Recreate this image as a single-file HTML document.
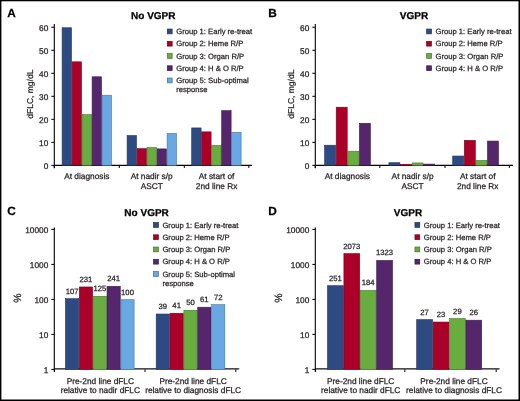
<!DOCTYPE html>
<html><head><meta charset="utf-8"><style>
html,body{margin:0;padding:0;background:#fff;}
body{width:520px;height:401px;overflow:hidden;position:relative;}
svg{position:absolute;left:0;top:0;font-family:"Liberation Sans", sans-serif;will-change:transform;}
text{stroke-width:0.25px;text-rendering:geometricPrecision;}
</style></head><body>
<svg width="520" height="401" viewBox="0 0 520 401">
<rect x="0" y="0" width="520" height="401" fill="#fff"/>
<text x="7.30" y="17.20" font-size="11.8" text-anchor="start" font-weight="bold" fill="#000" stroke="#000" >A</text>
<text x="153.30" y="18.50" font-size="10" text-anchor="middle" font-weight="bold" fill="#000" stroke="#000" >No VGPR</text>
<line x1="54.30" y1="24.00" x2="54.30" y2="168.20" stroke="#000" stroke-width="1.1"/>
<line x1="51.30" y1="165.40" x2="54.30" y2="165.40" stroke="#000" stroke-width="1"/>
<text x="48.30" y="168.80" font-size="8.3" text-anchor="end" font-weight="normal" fill="#231f20" stroke="#231f20" >0</text>
<line x1="51.30" y1="142.37" x2="54.30" y2="142.37" stroke="#000" stroke-width="1"/>
<text x="48.30" y="145.77" font-size="8.3" text-anchor="end" font-weight="normal" fill="#231f20" stroke="#231f20" >10</text>
<line x1="51.30" y1="119.34" x2="54.30" y2="119.34" stroke="#000" stroke-width="1"/>
<text x="48.30" y="122.74" font-size="8.3" text-anchor="end" font-weight="normal" fill="#231f20" stroke="#231f20" >20</text>
<line x1="51.30" y1="96.31" x2="54.30" y2="96.31" stroke="#000" stroke-width="1"/>
<text x="48.30" y="99.71" font-size="8.3" text-anchor="end" font-weight="normal" fill="#231f20" stroke="#231f20" >30</text>
<line x1="51.30" y1="73.28" x2="54.30" y2="73.28" stroke="#000" stroke-width="1"/>
<text x="48.30" y="76.68" font-size="8.3" text-anchor="end" font-weight="normal" fill="#231f20" stroke="#231f20" >40</text>
<line x1="51.30" y1="50.25" x2="54.30" y2="50.25" stroke="#000" stroke-width="1"/>
<text x="48.30" y="53.65" font-size="8.3" text-anchor="end" font-weight="normal" fill="#231f20" stroke="#231f20" >50</text>
<line x1="51.30" y1="27.22" x2="54.30" y2="27.22" stroke="#000" stroke-width="1"/>
<text x="48.30" y="30.62" font-size="8.3" text-anchor="end" font-weight="normal" fill="#231f20" stroke="#231f20" >60</text>
<text transform="translate(33.3,94.2) rotate(-90)" font-size="8.5" text-anchor="middle" fill="#231f20" stroke="#231f20">dFLC, mg/dL</text>
<line x1="54.30" y1="165.40" x2="252.00" y2="165.40" stroke="#000" stroke-width="1.1"/>
<line x1="54.30" y1="165.40" x2="54.30" y2="168.00" stroke="#000" stroke-width="1"/>
<line x1="119.30" y1="165.40" x2="119.30" y2="168.00" stroke="#000" stroke-width="1"/>
<line x1="184.30" y1="165.40" x2="184.30" y2="168.00" stroke="#000" stroke-width="1"/>
<line x1="248.80" y1="165.40" x2="248.80" y2="168.00" stroke="#000" stroke-width="1"/>
<rect x="62.10" y="27.75" width="9.40" height="137.65" fill="#2d4b82" stroke="#1f345b" stroke-width="0.6"/>
<rect x="72.10" y="61.83" width="9.40" height="103.57" fill="#ab0129" stroke="#77001c" stroke-width="0.6"/>
<rect x="82.10" y="114.57" width="9.40" height="50.83" fill="#69ad41" stroke="#49792d" stroke-width="0.6"/>
<rect x="92.10" y="76.80" width="9.40" height="88.60" fill="#55266b" stroke="#3b1a4a" stroke-width="0.6"/>
<rect x="102.10" y="95.23" width="9.40" height="70.17" fill="#68a8e3" stroke="#48759e" stroke-width="0.6"/>
<text x="86.80" y="179.10" font-size="8.3" text-anchor="middle" font-weight="normal" fill="#231f20" stroke="#231f20" >At diagnosis</text>
<rect x="127.10" y="135.53" width="9.40" height="29.87" fill="#2d4b82" stroke="#1f345b" stroke-width="0.6"/>
<rect x="137.10" y="148.66" width="9.40" height="16.74" fill="#ab0129" stroke="#77001c" stroke-width="0.6"/>
<rect x="147.10" y="147.51" width="9.40" height="17.89" fill="#69ad41" stroke="#49792d" stroke-width="0.6"/>
<rect x="157.10" y="148.89" width="9.40" height="16.51" fill="#55266b" stroke="#3b1a4a" stroke-width="0.6"/>
<rect x="167.10" y="133.46" width="9.40" height="31.94" fill="#68a8e3" stroke="#48759e" stroke-width="0.6"/>
<text x="151.70" y="179.10" font-size="8.3" text-anchor="middle" font-weight="normal" fill="#231f20" stroke="#231f20" >At nadir s/p</text>
<text x="151.70" y="188.60" font-size="8.3" text-anchor="middle" font-weight="normal" fill="#231f20" stroke="#231f20" >ASCT</text>
<rect x="191.70" y="127.93" width="9.40" height="37.47" fill="#2d4b82" stroke="#1f345b" stroke-width="0.6"/>
<rect x="201.70" y="131.85" width="9.40" height="33.55" fill="#ab0129" stroke="#77001c" stroke-width="0.6"/>
<rect x="211.70" y="145.43" width="9.40" height="19.97" fill="#69ad41" stroke="#49792d" stroke-width="0.6"/>
<rect x="221.70" y="110.66" width="9.40" height="54.74" fill="#55266b" stroke="#3b1a4a" stroke-width="0.6"/>
<rect x="231.70" y="132.31" width="9.40" height="33.09" fill="#68a8e3" stroke="#48759e" stroke-width="0.6"/>
<text x="216.60" y="179.10" font-size="8.3" text-anchor="middle" font-weight="normal" fill="#231f20" stroke="#231f20" >At start of</text>
<text x="216.60" y="188.60" font-size="8.3" text-anchor="middle" font-weight="normal" fill="#231f20" stroke="#231f20" >2nd line Rx</text>
<rect x="167.35" y="29.05" width="4.80" height="4.80" fill="#2d4b82" stroke="#1d3054" stroke-width="0.7"/>
<text x="176.20" y="34.20" font-size="7.65" text-anchor="start" font-weight="normal" fill="#231f20" stroke="#231f20" >Group 1: Early re-treat</text>
<rect x="167.35" y="41.30" width="4.80" height="4.80" fill="#ab0129" stroke="#6f001a" stroke-width="0.7"/>
<text x="176.20" y="46.45" font-size="7.65" text-anchor="start" font-weight="normal" fill="#231f20" stroke="#231f20" >Group 2: Heme R/P</text>
<rect x="167.35" y="53.55" width="4.80" height="4.80" fill="#69ad41" stroke="#44702a" stroke-width="0.7"/>
<text x="176.20" y="58.70" font-size="7.65" text-anchor="start" font-weight="normal" fill="#231f20" stroke="#231f20" >Group 3: Organ R/P</text>
<rect x="167.35" y="65.80" width="4.80" height="4.80" fill="#55266b" stroke="#371845" stroke-width="0.7"/>
<text x="176.20" y="70.95" font-size="7.65" text-anchor="start" font-weight="normal" fill="#231f20" stroke="#231f20" >Group 4: H &amp; O R/P</text>
<rect x="167.35" y="78.05" width="4.80" height="4.80" fill="#68a8e3" stroke="#436d93" stroke-width="0.7"/>
<text x="176.20" y="83.20" font-size="7.65" text-anchor="start" font-weight="normal" fill="#231f20" stroke="#231f20" >Group 5: Sub-optimal</text>
<text x="176.20" y="92.20" font-size="7.65" text-anchor="start" font-weight="normal" fill="#231f20" stroke="#231f20" >response</text>
<text x="268.30" y="17.20" font-size="11.8" text-anchor="start" font-weight="bold" fill="#000" stroke="#000" >B</text>
<text x="414.00" y="18.50" font-size="10" text-anchor="middle" font-weight="bold" fill="#000" stroke="#000" >VGPR</text>
<line x1="315.30" y1="24.00" x2="315.30" y2="168.20" stroke="#000" stroke-width="1.1"/>
<line x1="312.30" y1="165.40" x2="315.30" y2="165.40" stroke="#000" stroke-width="1"/>
<text x="309.30" y="168.80" font-size="8.3" text-anchor="end" font-weight="normal" fill="#231f20" stroke="#231f20" >0</text>
<line x1="312.30" y1="142.37" x2="315.30" y2="142.37" stroke="#000" stroke-width="1"/>
<text x="309.30" y="145.77" font-size="8.3" text-anchor="end" font-weight="normal" fill="#231f20" stroke="#231f20" >10</text>
<line x1="312.30" y1="119.34" x2="315.30" y2="119.34" stroke="#000" stroke-width="1"/>
<text x="309.30" y="122.74" font-size="8.3" text-anchor="end" font-weight="normal" fill="#231f20" stroke="#231f20" >20</text>
<line x1="312.30" y1="96.31" x2="315.30" y2="96.31" stroke="#000" stroke-width="1"/>
<text x="309.30" y="99.71" font-size="8.3" text-anchor="end" font-weight="normal" fill="#231f20" stroke="#231f20" >30</text>
<line x1="312.30" y1="73.28" x2="315.30" y2="73.28" stroke="#000" stroke-width="1"/>
<text x="309.30" y="76.68" font-size="8.3" text-anchor="end" font-weight="normal" fill="#231f20" stroke="#231f20" >40</text>
<line x1="312.30" y1="50.25" x2="315.30" y2="50.25" stroke="#000" stroke-width="1"/>
<text x="309.30" y="53.65" font-size="8.3" text-anchor="end" font-weight="normal" fill="#231f20" stroke="#231f20" >50</text>
<line x1="312.30" y1="27.22" x2="315.30" y2="27.22" stroke="#000" stroke-width="1"/>
<text x="309.30" y="30.62" font-size="8.3" text-anchor="end" font-weight="normal" fill="#231f20" stroke="#231f20" >60</text>
<text transform="translate(293.7,94.2) rotate(-90)" font-size="8.5" text-anchor="middle" fill="#231f20" stroke="#231f20">dFLC, mg/dL</text>
<line x1="315.30" y1="165.40" x2="513.00" y2="165.40" stroke="#000" stroke-width="1.1"/>
<line x1="315.30" y1="165.40" x2="315.30" y2="168.00" stroke="#000" stroke-width="1"/>
<line x1="379.80" y1="165.40" x2="379.80" y2="168.00" stroke="#000" stroke-width="1"/>
<line x1="445.00" y1="165.40" x2="445.00" y2="168.00" stroke="#000" stroke-width="1"/>
<line x1="509.30" y1="165.40" x2="509.30" y2="168.00" stroke="#000" stroke-width="1"/>
<rect x="324.60" y="145.20" width="11.00" height="20.20" fill="#2d4b82" stroke="#1f345b" stroke-width="0.6"/>
<rect x="336.20" y="107.20" width="11.00" height="58.20" fill="#ab0129" stroke="#77001c" stroke-width="0.6"/>
<rect x="347.80" y="151.19" width="11.00" height="14.21" fill="#69ad41" stroke="#49792d" stroke-width="0.6"/>
<rect x="359.40" y="123.32" width="11.00" height="42.08" fill="#55266b" stroke="#3b1a4a" stroke-width="0.6"/>
<text x="347.30" y="179.10" font-size="8.3" text-anchor="middle" font-weight="normal" fill="#231f20" stroke="#231f20" >At diagnosis</text>
<rect x="388.90" y="162.71" width="11.00" height="2.69" fill="#2d4b82" stroke="#1f345b" stroke-width="0.6"/>
<rect x="400.50" y="164.32" width="11.00" height="1.08" fill="#ab0129" stroke="#77001c" stroke-width="0.6"/>
<rect x="412.10" y="162.94" width="11.00" height="2.46" fill="#69ad41" stroke="#49792d" stroke-width="0.6"/>
<rect x="423.70" y="164.09" width="11.00" height="1.31" fill="#55266b" stroke="#3b1a4a" stroke-width="0.6"/>
<text x="412.60" y="179.10" font-size="8.3" text-anchor="middle" font-weight="normal" fill="#231f20" stroke="#231f20" >At nadir s/p</text>
<text x="412.60" y="188.60" font-size="8.3" text-anchor="middle" font-weight="normal" fill="#231f20" stroke="#231f20" >ASCT</text>
<rect x="452.70" y="156.03" width="11.00" height="9.37" fill="#2d4b82" stroke="#1f345b" stroke-width="0.6"/>
<rect x="464.30" y="140.37" width="11.00" height="25.03" fill="#ab0129" stroke="#77001c" stroke-width="0.6"/>
<rect x="475.90" y="160.40" width="11.00" height="5.00" fill="#69ad41" stroke="#49792d" stroke-width="0.6"/>
<rect x="487.50" y="141.06" width="11.00" height="24.34" fill="#55266b" stroke="#3b1a4a" stroke-width="0.6"/>
<text x="477.70" y="179.10" font-size="8.3" text-anchor="middle" font-weight="normal" fill="#231f20" stroke="#231f20" >At start of</text>
<text x="477.70" y="188.60" font-size="8.3" text-anchor="middle" font-weight="normal" fill="#231f20" stroke="#231f20" >2nd line Rx</text>
<rect x="426.65" y="29.05" width="4.80" height="4.80" fill="#2d4b82" stroke="#1d3054" stroke-width="0.7"/>
<text x="435.50" y="34.20" font-size="7.65" text-anchor="start" font-weight="normal" fill="#231f20" stroke="#231f20" >Group 1: Early re-treat</text>
<rect x="426.65" y="41.30" width="4.80" height="4.80" fill="#ab0129" stroke="#6f001a" stroke-width="0.7"/>
<text x="435.50" y="46.45" font-size="7.65" text-anchor="start" font-weight="normal" fill="#231f20" stroke="#231f20" >Group 2: Heme R/P</text>
<rect x="426.65" y="53.55" width="4.80" height="4.80" fill="#69ad41" stroke="#44702a" stroke-width="0.7"/>
<text x="435.50" y="58.70" font-size="7.65" text-anchor="start" font-weight="normal" fill="#231f20" stroke="#231f20" >Group 3: Organ R/P</text>
<rect x="426.65" y="65.80" width="4.80" height="4.80" fill="#55266b" stroke="#371845" stroke-width="0.7"/>
<text x="435.50" y="70.95" font-size="7.65" text-anchor="start" font-weight="normal" fill="#231f20" stroke="#231f20" >Group 4: H &amp; O R/P</text>
<text x="7.30" y="214.90" font-size="11.8" text-anchor="start" font-weight="bold" fill="#000" stroke="#000" >C</text>
<text x="146.60" y="216.00" font-size="10" text-anchor="middle" font-weight="bold" fill="#000" stroke="#000" >No VGPR</text>
<line x1="54.30" y1="227.50" x2="54.30" y2="372.00" stroke="#000" stroke-width="1.1"/>
<line x1="51.30" y1="369.40" x2="54.30" y2="369.40" stroke="#000" stroke-width="1"/>
<text x="48.30" y="373.00" font-size="8.3" text-anchor="end" font-weight="normal" fill="#231f20" stroke="#231f20" >1</text>
<line x1="51.30" y1="334.40" x2="54.30" y2="334.40" stroke="#000" stroke-width="1"/>
<text x="48.30" y="338.00" font-size="8.3" text-anchor="end" font-weight="normal" fill="#231f20" stroke="#231f20" >10</text>
<line x1="51.30" y1="299.40" x2="54.30" y2="299.40" stroke="#000" stroke-width="1"/>
<text x="48.30" y="303.00" font-size="8.3" text-anchor="end" font-weight="normal" fill="#231f20" stroke="#231f20" >100</text>
<line x1="51.30" y1="264.40" x2="54.30" y2="264.40" stroke="#000" stroke-width="1"/>
<text x="48.30" y="268.00" font-size="8.3" text-anchor="end" font-weight="normal" fill="#231f20" stroke="#231f20" >1000</text>
<line x1="51.30" y1="229.40" x2="54.30" y2="229.40" stroke="#000" stroke-width="1"/>
<text x="48.30" y="233.00" font-size="8.3" text-anchor="end" font-weight="normal" fill="#231f20" stroke="#231f20" >10000</text>
<text transform="translate(21.2,298.2) rotate(-90)" font-size="10.5" text-anchor="middle" fill="#231f20" stroke="#231f20">%</text>
<line x1="54.30" y1="368.90" x2="239.20" y2="368.90" stroke="#111" stroke-width="1.4"/>
<line x1="54.50" y1="369.40" x2="54.50" y2="372.00" stroke="#000" stroke-width="1"/>
<line x1="145.00" y1="369.40" x2="145.00" y2="372.00" stroke="#000" stroke-width="1"/>
<line x1="235.80" y1="369.40" x2="235.80" y2="372.00" stroke="#000" stroke-width="1"/>
<rect x="65.47" y="298.67" width="13.25" height="70.73" fill="#2d4b82" stroke="#1f345b" stroke-width="0.6"/>
<text x="72.10" y="293.67" font-size="7.7" text-anchor="middle" font-weight="normal" fill="#231f20" stroke="#231f20" >107</text>
<rect x="79.32" y="286.97" width="13.25" height="82.43" fill="#ab0129" stroke="#77001c" stroke-width="0.6"/>
<text x="85.95" y="281.97" font-size="7.7" text-anchor="middle" font-weight="normal" fill="#231f20" stroke="#231f20" >231</text>
<rect x="93.17" y="296.31" width="13.25" height="73.09" fill="#69ad41" stroke="#49792d" stroke-width="0.6"/>
<text x="99.80" y="291.31" font-size="7.7" text-anchor="middle" font-weight="normal" fill="#231f20" stroke="#231f20" >125</text>
<rect x="107.02" y="286.33" width="13.25" height="83.07" fill="#55266b" stroke="#3b1a4a" stroke-width="0.6"/>
<text x="113.65" y="281.33" font-size="7.7" text-anchor="middle" font-weight="normal" fill="#231f20" stroke="#231f20" >241</text>
<rect x="120.87" y="299.70" width="13.25" height="69.70" fill="#68a8e3" stroke="#48759e" stroke-width="0.6"/>
<text x="127.50" y="294.70" font-size="7.7" text-anchor="middle" font-weight="normal" fill="#231f20" stroke="#231f20" >100</text>
<text x="100.30" y="383.60" font-size="8.3" text-anchor="middle" font-weight="normal" fill="#231f20" stroke="#231f20" >Pre-2nd line dFLC</text>
<text x="100.30" y="393.10" font-size="8.3" text-anchor="middle" font-weight="normal" fill="#231f20" stroke="#231f20" >relative to nadir dFLC</text>
<rect x="156.18" y="314.01" width="13.25" height="55.39" fill="#2d4b82" stroke="#1f345b" stroke-width="0.6"/>
<text x="162.80" y="309.01" font-size="7.7" text-anchor="middle" font-weight="normal" fill="#231f20" stroke="#231f20" >39</text>
<rect x="170.03" y="313.25" width="13.25" height="56.15" fill="#ab0129" stroke="#77001c" stroke-width="0.6"/>
<text x="176.65" y="308.25" font-size="7.7" text-anchor="middle" font-weight="normal" fill="#231f20" stroke="#231f20" >41</text>
<rect x="183.88" y="310.24" width="13.25" height="59.16" fill="#69ad41" stroke="#49792d" stroke-width="0.6"/>
<text x="190.50" y="305.24" font-size="7.7" text-anchor="middle" font-weight="normal" fill="#231f20" stroke="#231f20" >50</text>
<rect x="197.73" y="307.21" width="13.25" height="62.19" fill="#55266b" stroke="#3b1a4a" stroke-width="0.6"/>
<text x="204.35" y="302.21" font-size="7.7" text-anchor="middle" font-weight="normal" fill="#231f20" stroke="#231f20" >61</text>
<rect x="211.58" y="304.69" width="13.25" height="64.71" fill="#68a8e3" stroke="#48759e" stroke-width="0.6"/>
<text x="218.20" y="299.69" font-size="7.7" text-anchor="middle" font-weight="normal" fill="#231f20" stroke="#231f20" >72</text>
<text x="193.10" y="383.60" font-size="8.3" text-anchor="middle" font-weight="normal" fill="#231f20" stroke="#231f20" >Pre-2nd line dFLC</text>
<text x="193.10" y="393.10" font-size="8.3" text-anchor="middle" font-weight="normal" fill="#231f20" stroke="#231f20" >relative to diagnosis dFLC</text>
<rect x="153.55" y="222.55" width="4.80" height="4.80" fill="#2d4b82" stroke="#1d3054" stroke-width="0.7"/>
<text x="162.40" y="227.70" font-size="7.65" text-anchor="start" font-weight="normal" fill="#231f20" stroke="#231f20" >Group 1: Early re-treat</text>
<rect x="153.55" y="234.80" width="4.80" height="4.80" fill="#ab0129" stroke="#6f001a" stroke-width="0.7"/>
<text x="162.40" y="239.95" font-size="7.65" text-anchor="start" font-weight="normal" fill="#231f20" stroke="#231f20" >Group 2: Heme R/P</text>
<rect x="153.55" y="247.05" width="4.80" height="4.80" fill="#69ad41" stroke="#44702a" stroke-width="0.7"/>
<text x="162.40" y="252.20" font-size="7.65" text-anchor="start" font-weight="normal" fill="#231f20" stroke="#231f20" >Group 3: Organ R/P</text>
<rect x="153.55" y="259.30" width="4.80" height="4.80" fill="#55266b" stroke="#371845" stroke-width="0.7"/>
<text x="162.40" y="264.45" font-size="7.65" text-anchor="start" font-weight="normal" fill="#231f20" stroke="#231f20" >Group 4: H &amp; O R/P</text>
<rect x="153.55" y="271.55" width="4.80" height="4.80" fill="#68a8e3" stroke="#436d93" stroke-width="0.7"/>
<text x="162.40" y="276.70" font-size="7.65" text-anchor="start" font-weight="normal" fill="#231f20" stroke="#231f20" >Group 5: Sub-optimal</text>
<text x="162.40" y="285.70" font-size="7.65" text-anchor="start" font-weight="normal" fill="#231f20" stroke="#231f20" >response</text>
<text x="268.30" y="214.90" font-size="11.8" text-anchor="start" font-weight="bold" fill="#000" stroke="#000" >D</text>
<text x="408.00" y="216.00" font-size="10" text-anchor="middle" font-weight="bold" fill="#000" stroke="#000" >VGPR</text>
<line x1="315.30" y1="227.50" x2="315.30" y2="372.00" stroke="#000" stroke-width="1.1"/>
<line x1="312.30" y1="369.40" x2="315.30" y2="369.40" stroke="#000" stroke-width="1"/>
<text x="309.30" y="373.00" font-size="8.3" text-anchor="end" font-weight="normal" fill="#231f20" stroke="#231f20" >1</text>
<line x1="312.30" y1="334.40" x2="315.30" y2="334.40" stroke="#000" stroke-width="1"/>
<text x="309.30" y="338.00" font-size="8.3" text-anchor="end" font-weight="normal" fill="#231f20" stroke="#231f20" >10</text>
<line x1="312.30" y1="299.40" x2="315.30" y2="299.40" stroke="#000" stroke-width="1"/>
<text x="309.30" y="303.00" font-size="8.3" text-anchor="end" font-weight="normal" fill="#231f20" stroke="#231f20" >100</text>
<line x1="312.30" y1="264.40" x2="315.30" y2="264.40" stroke="#000" stroke-width="1"/>
<text x="309.30" y="268.00" font-size="8.3" text-anchor="end" font-weight="normal" fill="#231f20" stroke="#231f20" >1000</text>
<line x1="312.30" y1="229.40" x2="315.30" y2="229.40" stroke="#000" stroke-width="1"/>
<text x="309.30" y="233.00" font-size="8.3" text-anchor="end" font-weight="normal" fill="#231f20" stroke="#231f20" >10000</text>
<text transform="translate(282.2,298.2) rotate(-90)" font-size="10.5" text-anchor="middle" fill="#231f20" stroke="#231f20">%</text>
<line x1="315.30" y1="368.90" x2="499.50" y2="368.90" stroke="#111" stroke-width="1.4"/>
<line x1="315.50" y1="369.40" x2="315.50" y2="372.00" stroke="#000" stroke-width="1"/>
<line x1="404.80" y1="369.40" x2="404.80" y2="372.00" stroke="#000" stroke-width="1"/>
<line x1="496.20" y1="369.40" x2="496.20" y2="372.00" stroke="#000" stroke-width="1"/>
<rect x="327.50" y="285.71" width="15.80" height="83.69" fill="#2d4b82" stroke="#1f345b" stroke-width="0.6"/>
<text x="335.40" y="280.71" font-size="7.7" text-anchor="middle" font-weight="normal" fill="#231f20" stroke="#231f20" >251</text>
<rect x="343.90" y="253.62" width="15.80" height="115.78" fill="#ab0129" stroke="#77001c" stroke-width="0.6"/>
<text x="351.80" y="248.62" font-size="7.7" text-anchor="middle" font-weight="normal" fill="#231f20" stroke="#231f20" >2073</text>
<rect x="360.30" y="290.43" width="15.80" height="78.97" fill="#69ad41" stroke="#49792d" stroke-width="0.6"/>
<text x="368.20" y="285.43" font-size="7.7" text-anchor="middle" font-weight="normal" fill="#231f20" stroke="#231f20" >184</text>
<rect x="376.70" y="260.45" width="15.80" height="108.95" fill="#55266b" stroke="#3b1a4a" stroke-width="0.6"/>
<text x="384.60" y="255.45" font-size="7.7" text-anchor="middle" font-weight="normal" fill="#231f20" stroke="#231f20" >1323</text>
<text x="360.70" y="383.60" font-size="8.3" text-anchor="middle" font-weight="normal" fill="#231f20" stroke="#231f20" >Pre-2nd line dFLC</text>
<text x="360.70" y="393.10" font-size="8.3" text-anchor="middle" font-weight="normal" fill="#231f20" stroke="#231f20" >relative to nadir dFLC</text>
<rect x="416.70" y="319.60" width="15.80" height="49.80" fill="#2d4b82" stroke="#1f345b" stroke-width="0.6"/>
<text x="424.60" y="314.60" font-size="7.7" text-anchor="middle" font-weight="normal" fill="#231f20" stroke="#231f20" >27</text>
<rect x="433.10" y="322.04" width="15.80" height="47.36" fill="#ab0129" stroke="#77001c" stroke-width="0.6"/>
<text x="441.00" y="317.04" font-size="7.7" text-anchor="middle" font-weight="normal" fill="#231f20" stroke="#231f20" >23</text>
<rect x="449.50" y="318.52" width="15.80" height="50.88" fill="#69ad41" stroke="#49792d" stroke-width="0.6"/>
<text x="457.40" y="313.52" font-size="7.7" text-anchor="middle" font-weight="normal" fill="#231f20" stroke="#231f20" >29</text>
<rect x="465.90" y="320.18" width="15.80" height="49.22" fill="#55266b" stroke="#3b1a4a" stroke-width="0.6"/>
<text x="473.80" y="315.18" font-size="7.7" text-anchor="middle" font-weight="normal" fill="#231f20" stroke="#231f20" >26</text>
<text x="454.00" y="383.60" font-size="8.3" text-anchor="middle" font-weight="normal" fill="#231f20" stroke="#231f20" >Pre-2nd line dFLC</text>
<text x="454.00" y="393.10" font-size="8.3" text-anchor="middle" font-weight="normal" fill="#231f20" stroke="#231f20" >relative to diagnosis dFLC</text>
<rect x="414.95" y="222.55" width="4.80" height="4.80" fill="#2d4b82" stroke="#1d3054" stroke-width="0.7"/>
<text x="423.80" y="227.70" font-size="7.65" text-anchor="start" font-weight="normal" fill="#231f20" stroke="#231f20" >Group 1: Early re-treat</text>
<rect x="414.95" y="234.80" width="4.80" height="4.80" fill="#ab0129" stroke="#6f001a" stroke-width="0.7"/>
<text x="423.80" y="239.95" font-size="7.65" text-anchor="start" font-weight="normal" fill="#231f20" stroke="#231f20" >Group 2: Heme R/P</text>
<rect x="414.95" y="247.05" width="4.80" height="4.80" fill="#69ad41" stroke="#44702a" stroke-width="0.7"/>
<text x="423.80" y="252.20" font-size="7.65" text-anchor="start" font-weight="normal" fill="#231f20" stroke="#231f20" >Group 3: Organ R/P</text>
<rect x="414.95" y="259.30" width="4.80" height="4.80" fill="#55266b" stroke="#371845" stroke-width="0.7"/>
<text x="423.80" y="264.45" font-size="7.65" text-anchor="start" font-weight="normal" fill="#231f20" stroke="#231f20" >Group 4: H &amp; O R/P</text>
<rect x="0" y="0" width="520" height="1.3" fill="#000"/>
<rect x="0" y="0" width="1.4" height="401" fill="#000"/>
<rect x="518.5" y="0" width="1.5" height="401" fill="#000"/>
<rect x="0" y="399.5" width="520" height="1.5" fill="#000"/>
</svg>
</body></html>
